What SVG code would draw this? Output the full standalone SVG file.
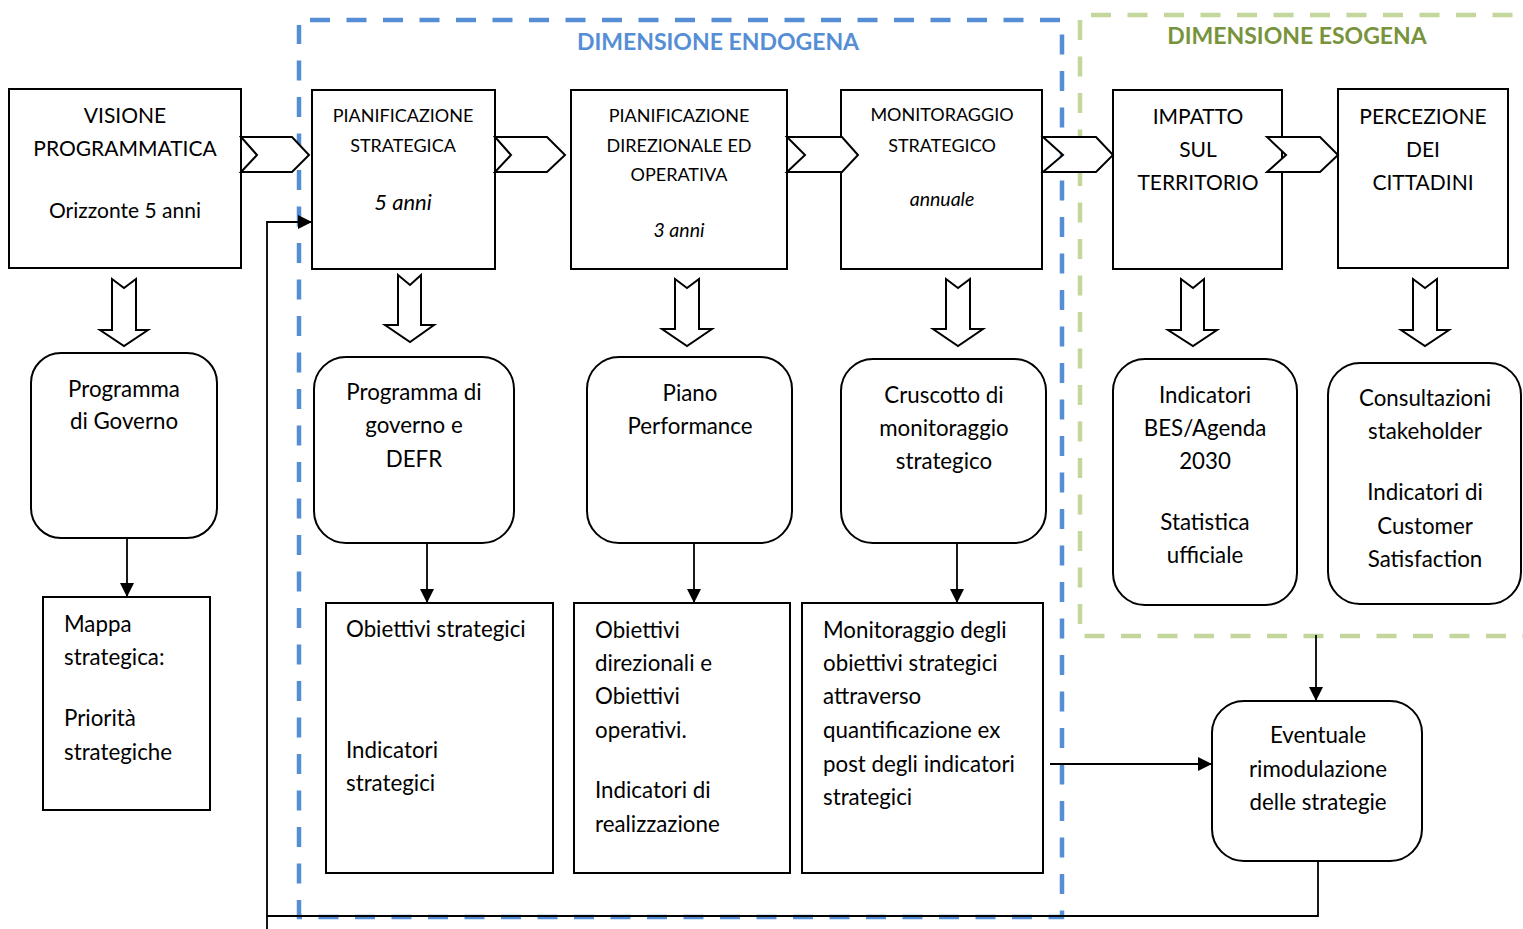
<svg xmlns="http://www.w3.org/2000/svg" width="1523" height="929" viewBox="0 0 1523 929">
<defs>
<style>
text{font-family:Lato,"Open Sans","Liberation Sans",sans-serif;fill:#000}
.box{fill:#fff;stroke:#000;stroke-width:2}
.c{text-anchor:middle}
.capL{font-size:21px}
.capS{font-size:18px}
.it{font-style:italic}
.itL{font-size:22px}
.itS{font-size:19.5px}
.body{font-size:22.3px}
.blk{fill:#fff;stroke:#000;stroke-width:2;stroke-linejoin:miter}
.ln{fill:none;stroke:#000;stroke-width:1.8}
.fb{fill:none;stroke:#558ED5;stroke-width:4.5;stroke-dasharray:20 16.5}
.fg{fill:none;stroke:#C3D69B;stroke-width:4.5;stroke-dasharray:20 16.5}
.title{font-size:23px;font-weight:bold}
</style>
<marker id="ah" viewBox="0 0 14 14" refX="14" refY="7" markerWidth="14" markerHeight="14" markerUnits="userSpaceOnUse" orient="auto">
<path d="M0,0 L14,7 L0,14 Z" fill="#000"/>
</marker>
</defs>
<rect width="1523" height="929" fill="#fff"/>

<g id="visione">
<rect class="box" x="9" y="89" width="232" height="179"/>
<text class="c capL" x="125" y="123">VISIONE</text>
<text class="c capL" x="125" y="156">PROGRAMMATICA</text>
<text class="c capL" x="125" y="218">Orizzonte 5 anni</text>
</g>
<g id="pian-strategica">
<rect class="box" x="312" y="90" width="183" height="179"/>
<text class="c capS" x="403" y="122">PIANIFICAZIONE</text>
<text class="c capS" x="403" y="152">STRATEGICA</text>
<text class="c itL it" x="403" y="210">5 anni</text>
</g>
<g id="pian-direzionale">
<rect class="box" x="571" y="90" width="216" height="179"/>
<text class="c capS" x="679" y="122">PIANIFICAZIONE</text>
<text class="c capS" x="679" y="152">DIREZIONALE ED</text>
<text class="c capS" x="679" y="181">OPERATIVA</text>
<text class="c itS it" x="679" y="237">3 anni</text>
</g>
<g id="monitoraggio">
<rect class="box" x="841" y="90" width="201" height="179"/>
<text class="c capS" x="942" y="121">MONITORAGGIO</text>
<text class="c capS" x="942" y="152">STRATEGICO</text>
<text class="c itS it" x="942" y="206">annuale</text>
</g>
<g id="impatto">
<rect class="box" x="1113" y="90" width="169" height="179"/>
<text class="c capL" x="1198" y="124">IMPATTO</text>
<text class="c capL" x="1198" y="157">SUL</text>
<text class="c capL" x="1198" y="190">TERRITORIO</text>
</g>
<g id="percezione">
<rect class="box" x="1338" y="89" width="170" height="179"/>
<text class="c capL" x="1423" y="124">PERCEZIONE</text>
<text class="c capL" x="1423" y="157">DEI</text>
<text class="c capL" x="1423" y="190">CITTADINI</text>
</g>

<g id="programma-governo">
<rect class="box" x="31" y="353" width="186" height="185" rx="30"/>
<text class="c body" x="124" y="397">Programma</text>
<text class="c body" x="124" y="429">di Governo</text>
</g>
<g id="programma-defr">
<rect class="box" x="314" y="357" width="200" height="186" rx="32"/>
<text class="c body" x="414" y="400">Programma di</text>
<text class="c body" x="414" y="433">governo e</text>
<text class="c body" x="414" y="467">DEFR</text>
</g>
<g id="piano-performance">
<rect class="box" x="587" y="357" width="205" height="186" rx="32"/>
<text class="c body" x="690" y="401">Piano</text>
<text class="c body" x="690" y="434">Performance</text>
</g>
<g id="cruscotto">
<rect class="box" x="841" y="359" width="205" height="184" rx="32"/>
<text class="c body" x="944" y="403">Cruscotto di</text>
<text class="c body" x="944" y="436">monitoraggio</text>
<text class="c body" x="944" y="469">strategico</text>
</g>
<g id="indicatori-bes">
<rect class="box" x="1113" y="359" width="184" height="246" rx="32"/>
<text class="c body" x="1205" y="403">Indicatori</text>
<text class="c body" x="1205" y="436">BES/Agenda</text>
<text class="c body" x="1205" y="469">2030</text>
<text class="c body" x="1205" y="530">Statistica</text>
<text class="c body" x="1205" y="563">ufficiale</text>
</g>
<g id="consultazioni">
<rect class="box" x="1328" y="363" width="193" height="241" rx="32"/>
<text class="c body" x="1425" y="406">Consultazioni</text>
<text class="c body" x="1425" y="439">stakeholder</text>
<text class="c body" x="1425" y="500">Indicatori di</text>
<text class="c body" x="1425" y="534">Customer</text>
<text class="c body" x="1425" y="567">Satisfaction</text>
</g>

<g id="mappa">
<rect class="box" x="43" y="597" width="167" height="213"/>
<text class="body" x="64" y="632">Mappa</text>
<text class="body" x="64" y="665">strategica:</text>
<text class="body" x="64" y="726">Priorità</text>
<text class="body" x="64" y="760">strategiche</text>
</g>
<g id="obiettivi-strategici">
<rect class="box" x="326" y="603" width="227" height="270"/>
<text class="body" x="346" y="637">Obiettivi strategici</text>
<text class="body" x="346" y="758">Indicatori</text>
<text class="body" x="346" y="791">strategici</text>
</g>
<g id="obiettivi-operativi">
<rect class="box" x="574" y="603" width="216" height="270"/>
<text class="body" x="595" y="638">Obiettivi</text>
<text class="body" x="595" y="671">direzionali e</text>
<text class="body" x="595" y="704">Obiettivi</text>
<text class="body" x="595" y="738">operativi.</text>
<text class="body" x="595" y="798">Indicatori di</text>
<text class="body" x="595" y="832">realizzazione</text>
</g>
<g id="monitoraggio-obiettivi">
<rect class="box" x="802" y="603" width="241" height="270"/>
<text class="body" x="823" y="638">Monitoraggio degli</text>
<text class="body" x="823" y="671">obiettivi strategici</text>
<text class="body" x="823" y="704">attraverso</text>
<text class="body" x="823" y="738">quantificazione ex</text>
<text class="body" x="823" y="772">post degli indicatori</text>
<text class="body" x="823" y="805">strategici</text>
</g>
<g id="eventuale">
<rect class="box" x="1212" y="701" width="210" height="160" rx="32"/>
<text class="c body" x="1318" y="743">Eventuale</text>
<text class="c body" x="1318" y="777">rimodulazione</text>
<text class="c body" x="1318" y="810">delle strategie</text>
</g>

<g id="dimensione-endogena">
<path class="fb" d="M310,20 H1062 V917 H299 V25"/>
<text class="c title" x="718" y="50" style="fill:#558ED5">DIMENSIONE ENDOGENA</text>
</g>
<g id="dimensione-esogena">
<path class="fg" d="M1091,15 H1523 M1080,20 V636 H1523"/>
<text class="c title" x="1297" y="44" style="fill:#77933C">DIMENSIONE ESOGENA</text>
</g>

<g id="connectors">
<polygon class="blk" points="241,137 292,137 309,155 292,172 241,172 257,155"/>
<polygon class="blk" points="495,137 547,137 565,155 547,172 495,172 511,155"/>
<polygon class="blk" points="787,137 842,137 858,155 842,172 787,172 805,155"/>
<polygon class="blk" points="1043,137 1096,137 1113,155 1096,172 1043,172 1063,155"/>
<polygon class="blk" points="1267,137 1320,137 1338,155 1320,172 1267,172 1286,155"/>

<polygon class="blk" points="112,279 124,288 136,279 136,330 148,330 124,346 100,330 112,330"/>
<polygon class="blk" points="398,275 410,285 421,275 421,325 434,325 410,342 385,325 398,325"/>
<polygon class="blk" points="675,279 687,288 699,279 699,329 712,329 687,346 662,329 675,329"/>
<polygon class="blk" points="946,279 958,288 970,279 970,329 983,329 958,346 933,329 946,329"/>
<polygon class="blk" points="1181,279 1193,288 1204,279 1204,330 1217,330 1193,346 1168,330 1181,330"/>
<polygon class="blk" points="1413,279 1425,288 1437,279 1437,330 1449,330 1425,346 1401,330 1413,330"/>

<line class="ln" x1="127" y1="538" x2="127" y2="597" marker-end="url(#ah)"/>
<line class="ln" x1="427" y1="543" x2="427" y2="603" marker-end="url(#ah)"/>
<line class="ln" x1="694" y1="543" x2="694" y2="603" marker-end="url(#ah)"/>
<line class="ln" x1="957" y1="543" x2="957" y2="603" marker-end="url(#ah)"/>
<line class="ln" x1="1050" y1="764" x2="1212" y2="764" marker-end="url(#ah)"/>
<line class="ln" x1="1316" y1="635" x2="1316" y2="701" marker-end="url(#ah)"/>
<path class="ln" d="M1318,861 V916 H267 V929"/>
<path class="ln" d="M267,916 V222 H312" marker-end="url(#ah)"/>
</g>
</svg>
